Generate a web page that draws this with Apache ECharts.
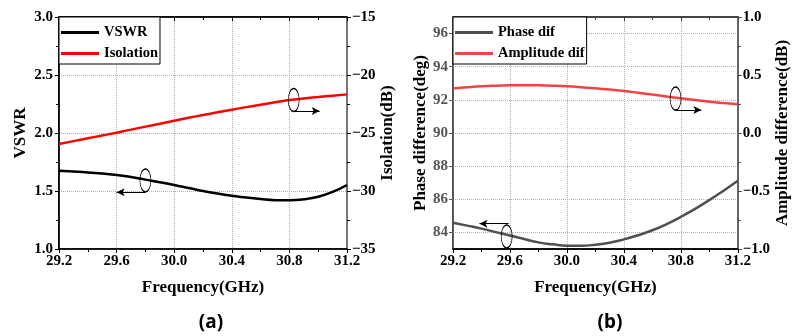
<!DOCTYPE html>
<html>
<head>
<meta charset="utf-8">
<script src="https://cdn.jsdelivr.net/npm/echarts@6/dist/echarts.min.js"></script>
<style>
  html, body { margin: 0; padding: 0; background: #fff; }
  #chart { width: 792px; height: 336px; }
</style>
</head>
<body>
<div id="chart"></div>
<script>
// frequency samples (GHz)
const freq = [29.2, 29.3, 29.4, 29.5, 29.6, 29.7, 29.8, 29.9, 30.0, 30.1, 30.2,
              30.3, 30.4, 30.5, 30.6, 30.7, 30.8, 30.9, 31.0, 31.1, 31.2]

// panel (a)
const vswr = [1.675, 1.668, 1.66, 1.65, 1.638, 1.62, 1.598, 1.576, 1.552, 1.526, 1.50,
              1.479, 1.46, 1.443, 1.43, 1.421, 1.42, 1.428, 1.45, 1.492, 1.552]
const isolation = [-25.95, -25.7, -25.46, -25.21, -24.97, -24.71, -24.45, -24.2, -23.94, -23.69, -23.45,
                   -23.22, -22.99, -22.77, -22.56, -22.35, -22.16, -22.02, -21.9, -21.78, -21.67]

// panel (b)
const phaseDif = [84.58, 84.41, 84.23, 84.02, 83.81, 83.6, 83.4, 83.28, 83.2, 83.2, 83.26,
                  83.38, 83.58, 83.83, 84.13, 84.5, 84.94, 85.42, 85.95, 86.52, 87.12]
const ampDif = [0.383, 0.394, 0.403, 0.408, 0.411, 0.412, 0.411, 0.408, 0.403, 0.395, 0.385,
                0.374, 0.362, 0.347, 0.331, 0.315, 0.299, 0.284, 0.27, 0.258, 0.247]

const phaseTicks = [84, 86, 88, 90, 92, 94, 96]

const FONT = 'Liberation Serif'
const pairs = (ys) => freq.map((f, i) => [f, ys[i]])
const minus = (v, d) => (v < 0 ? '\u2212' : '') + Math.abs(v).toFixed(d)

const chart = echarts.init(document.getElementById('chart'), null, { renderer: 'canvas' })

const grid = (left, width) => ({
    left, width, top: 17, height: 232,
    show: true, borderColor: '#000', borderWidth: 1.5, backgroundColor: 'transparent',
})

const labelStyle = (color) => ({
    fontFamily: FONT, fontWeight: 'bold', fontSize: 15, color,
})

const gridLine = { show: true, lineStyle: { color: '#b0b0b0', type: [1, 1], width: 1 } }

const bottomX = (gridIndex) => ({
    type: 'value', gridIndex, min: 29.2, max: 31.2, interval: 0.4,
    name: 'Frequency(GHz)', nameLocation: 'middle', nameGap: 30,
    nameTextStyle: { fontFamily: FONT, fontWeight: 'bold', fontSize: 17, color: '#000' },
    axisLine: { onZero: false, lineStyle: { color: '#000', width: 1.5 } },
    axisTick: { length: 4, lineStyle: { color: '#000' } },
    minorTick: { show: true, splitNumber: 2, length: 3, lineStyle: { color: '#000' } },
    axisLabel: { ...labelStyle('#000'), margin: 5, formatter: (v) => v.toFixed(1) },
    splitLine: gridLine,
})

const topX = (gridIndex, color) => ({
    type: 'value', gridIndex, position: 'top', min: 29.2, max: 31.2, interval: 0.4,
    axisLine: { onZero: false, lineStyle: { color, width: 1.5 } },
    axisTick: { inside: true, length: 4, lineStyle: { color } },
    minorTick: { show: true, splitNumber: 2, length: 3, lineStyle: { color } },
    axisLabel: { show: false },
    splitLine: { show: false },
})

const nameStyle = { fontFamily: FONT, fontWeight: 'bold', fontSize: 17, color: '#000' }

const legendBox = (data, left) => ({
    data, left, top: 17, orient: 'vertical',
    backgroundColor: '#fff', borderColor: '#000', borderWidth: 1, borderRadius: 0,
    padding: [8, 2, 3, 2], itemGap: 6, itemWidth: 38, itemHeight: 3, icon: 'rect',
    textStyle: { fontFamily: FONT, fontWeight: 'bold', fontSize: 14.5, color: '#000' },
})

const arrow = (from, to) => [{ coord: from }, { coord: to }]

const annot = (center, size, from, to) => ({
    markPoint: {
        silent: true,
        symbol: 'circle',
        symbolSize: size,
        itemStyle: { color: 'transparent', borderColor: '#000', borderWidth: 1 },
        label: { show: false },
        data: [{ coord: center }],
    },
    markLine: {
        silent: true,
        symbol: ['none', 'arrow'],
        symbolSize: [6, 8],
        lineStyle: { color: '#000', width: 1, type: 'solid' },
        label: { show: false },
        data: [arrow(from, to)],
    },
})

const option = {
    animation: false,
    grid: [grid(59, 288), grid(453, 287)],
    title: [
        { text: '(a)', left: 206, top: 308, textAlign: 'center',
          textStyle: { fontFamily: 'Noto Sans', fontWeight: 'bold', fontSize: 19, color: '#000' } },
        { text: '(b)', left: 605, top: 308, textAlign: 'center',
          textStyle: { fontFamily: 'Noto Sans', fontWeight: 'bold', fontSize: 19, color: '#000' } },
    ],
    legend: [legendBox(['VSWR', 'Isolation'], 59), legendBox(['Phase dif', 'Amplitude dif'], 453)],
    xAxis: [bottomX(0), topX(0, '#000'), bottomX(1), topX(1, '#444')],
    yAxis: [
        {
            type: 'value', gridIndex: 0, min: 1, max: 3, interval: 0.5,
            name: 'VSWR', nameLocation: 'middle', nameGap: 30, nameTextStyle: nameStyle,
            axisLine: { show: true, onZero: false, lineStyle: { color: '#000', width: 1.5 } },
            axisTick: { show: true, length: 4, lineStyle: { color: '#000' } },
            minorTick: { show: true, splitNumber: 2, length: 3, lineStyle: { color: '#000' } },
            axisLabel: { ...labelStyle('#000'), margin: 6, formatter: (v) => v.toFixed(1) },
            splitLine: gridLine,
        },
        {
            type: 'value', gridIndex: 0, position: 'right', min: -35, max: -15, interval: 5,
            name: 'Isolation(dB)', nameLocation: 'middle', nameGap: 30, nameTextStyle: nameStyle,
            axisLine: { show: true, onZero: false, lineStyle: { color: '#777', width: 2 } },
            axisTick: { show: true, length: 4, lineStyle: { color: '#000' } },
            minorTick: { show: true, splitNumber: 2, length: 3, lineStyle: { color: '#000' } },
            axisLabel: { ...labelStyle('#000'), margin: 5, formatter: (v) => minus(v, 0) },
            splitLine: { show: false },
        },
        {
            type: 'value', gridIndex: 1, min: 83, max: 97,
            name: 'Phase difference(deg)', nameLocation: 'middle', nameGap: 22, nameTextStyle: nameStyle,
            axisLine: { show: true, onZero: false, lineStyle: { color: '#555', width: 1.5 } },
            axisTick: { show: true, length: 4, customValues: phaseTicks, lineStyle: { color: '#555' } },
            axisLabel: { ...labelStyle('#555'), margin: 5, customValues: phaseTicks },
            splitLine: gridLine,
        },
        {
            type: 'value', gridIndex: 1, position: 'right', min: -1, max: 1, interval: 0.5,
            name: 'Amplitude difference(dB)', nameLocation: 'middle', nameGap: 30, nameTextStyle: nameStyle,
            axisLine: { show: true, onZero: false, lineStyle: { color: '#666', width: 2 } },
            axisTick: { show: true, length: 4, lineStyle: { color: '#444' } },
            minorTick: { show: true, splitNumber: 2, length: 3, lineStyle: { color: '#444' } },
            axisLabel: { ...labelStyle('#000'), margin: 5, formatter: (v) => minus(v, 1) },
            splitLine: { show: false },
        },
    ],
    series: [
        {
            name: 'VSWR', type: 'line', xAxisIndex: 0, yAxisIndex: 0, smooth: true, showSymbol: false,
            lineStyle: { color: '#000', width: 2.5 }, itemStyle: { color: '#000' },
            data: pairs(vswr),
            ...annot([29.80, 1.591], [11, 23], [29.80, 1.49], [29.60, 1.49]),
        },
        {
            name: 'Isolation', type: 'line', xAxisIndex: 0, yAxisIndex: 1, smooth: true, showSymbol: false,
            lineStyle: { color: '#ff0000', width: 2.5 }, itemStyle: { color: '#ff0000' },
            data: pairs(isolation),
            ...annot([30.83, -22.16], [11, 23], [30.83, -23.1], [31.01, -23.1]),
        },
        {
            name: 'Phase dif', type: 'line', xAxisIndex: 2, yAxisIndex: 2, smooth: true, showSymbol: false,
            lineStyle: { color: '#505050', width: 2.5 }, itemStyle: { color: '#505050' },
            data: pairs(phaseDif),
            ...annot([29.577, 83.76], [11, 23], [29.59, 84.53], [29.386, 84.53]),
        },
        {
            name: 'Amplitude dif', type: 'line', xAxisIndex: 2, yAxisIndex: 3, smooth: true, showSymbol: false,
            lineStyle: { color: '#f04343', width: 2.5 }, itemStyle: { color: '#f04343' },
            data: pairs(ampDif),
            ...annot([30.763, 0.297], [11, 23], [30.763, 0.198], [30.944, 0.198]),
        },
    ],
}

chart.setOption(option)
</script>
</body>
</html>
